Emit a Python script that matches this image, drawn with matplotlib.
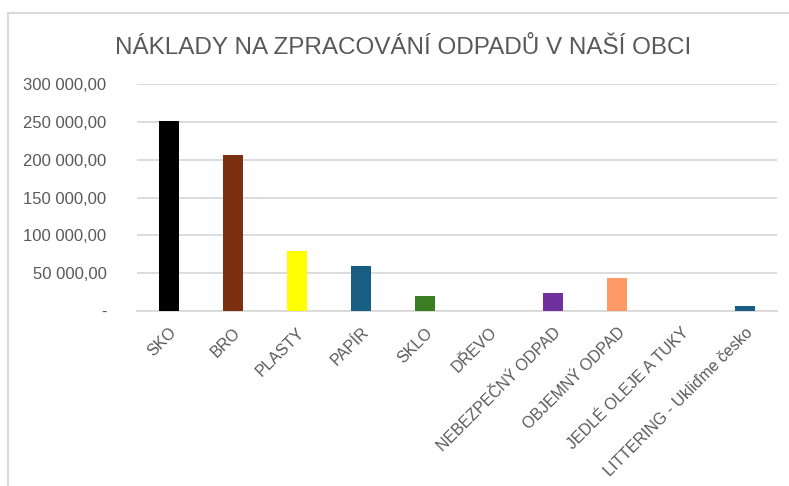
import matplotlib
matplotlib.use("Agg")
import matplotlib.pyplot as plt
from matplotlib.lines import Line2D
from matplotlib.ticker import FuncFormatter

# data
categories = ["SKO", "BRO", "PLASTY", "PAPÍR", "SKLO", "DŘEVO",
              "NEBEZPEČNÝ ODPAD", "OBJEMNÝ ODPAD", "JEDLÉ OLEJE A TUKY",
              "LITTERING - Ukliďme česko"]
costs = [251700, 206300, 79000, 59500, 20200, 0, 23400, 43600, 0, 6600]
bar_colors = ["#000000", "#7B3110", "#FFFF00", "#175E82", "#3A7D22",
              "#7F7F7F", "#7030A0", "#FF9966", "#7F7F7F", "#175E82"]
y_ticks = [0, 50000, 100000, 150000, 200000, 250000, 300000]

plt.rcParams['font.family'] = ['Liberation Sans', 'DejaVu Sans']
text_gray = "#595959"
grid_gray = "#D9D9D9"


def czech_fmt(v, pos):
    if v == 0:
        return "-"
    return f"{v:,.2f}".replace(",", " ").replace(".", ",")


fig = plt.figure(figsize=(7.89, 4.86), dpi=100)
ax = fig.add_axes([137 / 789, 1 - 311 / 486, 640 / 789, 227 / 486])

x = list(range(len(categories)))
ax.bar(x, costs, width=0.31, color=bar_colors, zorder=3)

ax.set_xlim(-0.5, len(categories) - 0.5)
ax.set_ylim(0, 300000)
ax.set_yticks(y_ticks)
ax.yaxis.set_major_formatter(FuncFormatter(czech_fmt))
ax.grid(axis="y", color=grid_gray, linewidth=1.3, zorder=0)
for s in ["top", "right", "left"]:
    ax.spines[s].set_visible(False)
ax.spines["bottom"].set_color(grid_gray)
ax.spines["bottom"].set_linewidth(1.3)
ax.tick_params(axis="both", length=0, colors=text_gray)
ax.tick_params(axis="y", pad=22, labelsize=12)
ax.set_xticks(x)
ax.set_xticklabels(categories, rotation=45, ha="right", rotation_mode="anchor")
ax.tick_params(axis="x", pad=10, labelsize=11.5)

fig.text(403 / 789, 1 - 48 / 486, "NÁKLADY NA ZPRACOVÁNÍ ODPADŮ V NAŠÍ OBCI",
         ha="center", va="center", fontsize=17.5, color=text_gray)

# chart frame (only top and left edges visible in the crop)
fig.add_artist(Line2D([7.5 / 789, 1], [1 - 13 / 486] * 2, color=grid_gray,
                      linewidth=1.5, transform=fig.transFigure))
fig.add_artist(Line2D([7.5 / 789] * 2, [1 - 13 / 486, 0], color=grid_gray,
                      linewidth=1.5, transform=fig.transFigure))

fig.savefig("out.png", dpi=100)
